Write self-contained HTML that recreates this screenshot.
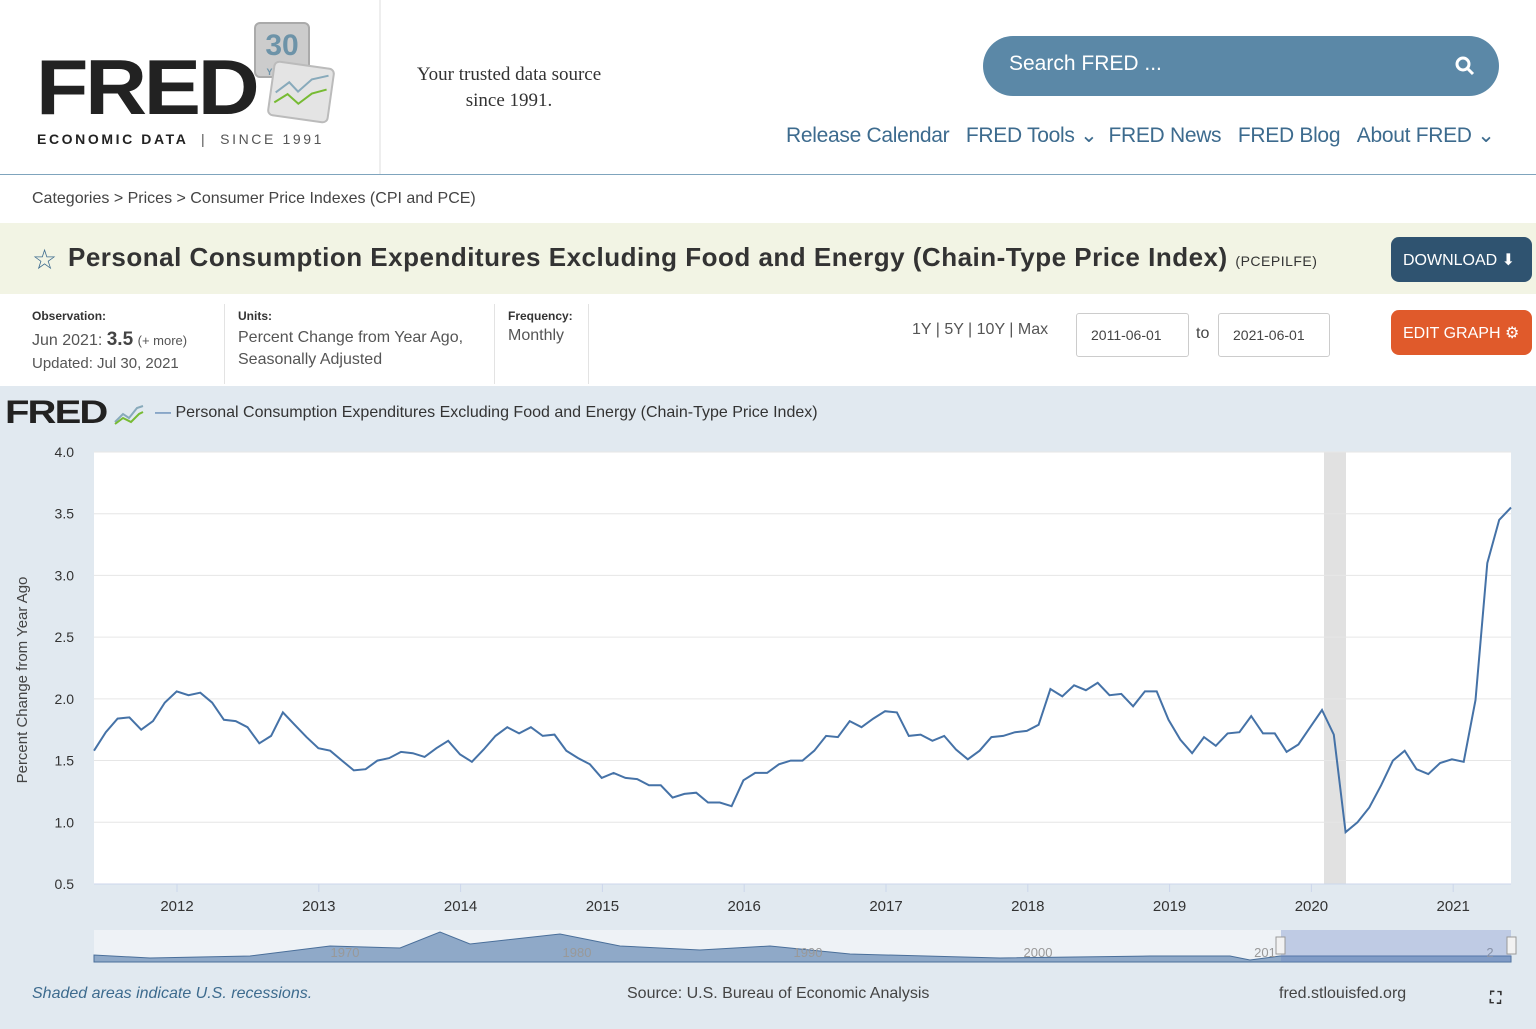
<!DOCTYPE html>
<html><head><meta charset="utf-8"><style>
*{margin:0;padding:0;box-sizing:border-box}
body{width:1536px;height:1029px;overflow:hidden;background:#fff;font-family:"Liberation Sans",sans-serif;position:relative}
.a{position:absolute;white-space:nowrap}
</style></head><body>
<div class="a" style="left:36px;top:42px;font:900 78px 'Liberation Sans';color:#222;letter-spacing:-3px;transform:scaleX(1.1);transform-origin:left">FRED</div>
<div class="a" style="left:254px;top:22px;width:56px;height:56px;background:#ccc;border:2px solid #aaa;border-radius:6px;font:bold 30px 'Liberation Sans';color:#6d93a8;text-align:center;line-height:44px">30<div style="font-size:9px;line-height:8px">YEARS</div></div>
<div class="a" style="left:270px;top:64px;width:62px;height:56px;background:#e4e4e4;border:2px solid #bbb;border-radius:6px;transform:rotate(8deg)"><svg width="58" height="50"><polyline points="4,30 16,18 26,26 38,12 54,6" fill="none" stroke="#8ab" stroke-width="2"/><polyline points="4,40 16,30 28,38 40,26 54,20" fill="none" stroke="#7b3" stroke-width="2"/></svg></div>
<div class="a" style="left:37px;top:131px;font:900 14px 'Liberation Sans';letter-spacing:2.6px;color:#222">ECONOMIC DATA <span style="font-weight:400;color:#555">&nbsp;|&nbsp; SINCE 1991</span></div>
<div class="a" style="left:379px;top:0;width:2px;height:174px;background:#eee"></div>
<div class="a" style="left:400px;top:62px;width:218px;text-align:center;font:19px/26px 'Liberation Serif';color:#333;white-space:normal">Your trusted data source since 1991.</div>
<div class="a" style="left:983px;top:36px;width:516px;height:60px;background:#5b88a7;border-radius:30px;color:#fff;font:21px 'Liberation Sans';padding:16px 26px">Search FRED ...<svg style="position:absolute;right:24px;top:20px" width="20" height="20"><circle cx="8" cy="8" r="6" fill="none" stroke="#fff" stroke-width="3"/><line x1="12" y1="12" x2="18" y2="18" stroke="#fff" stroke-width="3"/></svg></div>
<div class="a" style="left:786px;top:123px;font:21px 'Liberation Sans';color:#3d6b8e;letter-spacing:-0.3px">Release Calendar &nbsp;&nbsp;FRED Tools &#8964; &nbsp;FRED News &nbsp;&nbsp;FRED Blog &nbsp;&nbsp;About FRED &#8964;</div>
<div class="a" style="left:0;top:174px;width:1536px;height:1px;background:#7fa4bd"></div>
<div class="a" style="left:32px;top:190px;font:16px 'Liberation Sans';color:#444">Categories &gt; Prices &gt; Consumer Price Indexes (CPI and PCE)</div>
<div class="a" style="left:0;top:223px;width:1536px;height:71px;background:#f2f4e4"></div>
<div class="a" style="left:32px;top:243px;font:28px 'Liberation Sans';color:#3d6b8e">&#9734;</div>
<div class="a" style="left:68px;top:242px;font:bold 26px 'Liberation Sans';color:#333;letter-spacing:0.5px">Personal Consumption Expenditures Excluding Food and Energy (Chain-Type Price Index) <span style="font-size:14px;font-weight:400">(PCEPILFE)</span></div>
<div class="a" style="left:1391px;top:237px;width:141px;height:45px;background:#2f5370;border-radius:8px;color:#fff;font:16px 'Liberation Sans';padding:13px 12px">DOWNLOAD &#11015;</div>
<div class="a" style="left:32px;top:309px;font:bold 12px 'Liberation Sans';color:#333">Observation:</div>
<div class="a" style="left:32px;top:329px;font:16px 'Liberation Sans';color:#555">Jun 2021: <b style="font-size:19px;color:#444">3.5</b> <span style="font-size:13px">(+ more)</span></div>
<div class="a" style="left:32px;top:355px;font:15px 'Liberation Sans';color:#555">Updated: Jul 30, 2021</div>
<div class="a" style="left:224px;top:304px;width:1px;height:80px;background:#e3e3e3"></div>
<div class="a" style="left:238px;top:309px;font:bold 12px 'Liberation Sans';color:#333">Units:</div>
<div class="a" style="left:238px;top:327px;font:16px/22px 'Liberation Sans';color:#555">Percent Change from Year Ago,<br>Seasonally Adjusted</div>
<div class="a" style="left:494px;top:304px;width:1px;height:80px;background:#e3e3e3"></div>
<div class="a" style="left:508px;top:309px;font:bold 12px 'Liberation Sans';color:#333">Frequency:</div>
<div class="a" style="left:508px;top:327px;font:16px 'Liberation Sans';color:#555">Monthly</div>
<div class="a" style="left:588px;top:304px;width:1px;height:80px;background:#e3e3e3"></div>
<div class="a" style="left:912px;top:321px;font:16px 'Liberation Sans';color:#555">1Y | 5Y | 10Y | Max</div>
<div class="a" style="left:1076px;top:313px;width:113px;height:44px;border:1px solid #ccc;border-radius:3px;font:14px 'Liberation Sans';color:#444;padding:13px 14px">2011-06-01</div>
<div class="a" style="left:1196px;top:325px;font:16px 'Liberation Sans';color:#444">to</div>
<div class="a" style="left:1218px;top:313px;width:112px;height:44px;border:1px solid #ccc;border-radius:3px;font:14px 'Liberation Sans';color:#444;padding:13px 14px">2021-06-01</div>
<div class="a" style="left:1391px;top:310px;width:141px;height:45px;background:#e05a2b;border-radius:8px;color:#fff;font:16px 'Liberation Sans';padding:13px 12px">EDIT GRAPH &#9881;</div>
<div class="a" style="left:0;top:386px;width:1536px;height:643px;background:#e1e9f0"></div>
<div class="a" style="left:5px;top:394px;font:900 32px 'Liberation Sans';color:#222;letter-spacing:-1.5px;transform:scaleX(1.25);transform-origin:left">FRED</div>
<svg class="a" style="left:113px;top:402px" width="32" height="24"><polyline points="2,20 10,12 16,16 24,6 30,4" fill="none" stroke="#8ab" stroke-width="2"/><polyline points="2,22 10,16 18,20 26,12 30,10" fill="none" stroke="#7b3" stroke-width="2"/></svg>
<div class="a" style="left:155px;top:404px;font:16px 'Liberation Sans';color:#333"><span style="color:#4572a7">&#8212;</span> Personal Consumption Expenditures Excluding Food and Energy (Chain-Type Price Index)</div>
<svg class="a" style="left:0;top:0" width="1536" height="1029" id="s"></svg>
<div class="a" style="left:32px;top:985px;font:italic 16px 'Liberation Sans';color:#3d6b8e">Shaded areas indicate U.S. recessions.</div>
<div class="a" style="left:627px;top:985px;font:16px 'Liberation Sans';color:#444">Source: U.S. Bureau of Economic Analysis</div>
<div class="a" style="left:1279px;top:985px;font:16px 'Liberation Sans';color:#444">fred.stlouisfed.org</div>
<div class="a" style="left:1490px;top:990px;font:bold 16px 'Liberation Sans';color:#333">&#x26F6;</div>
<script>
var d=[1.58,1.73,1.84,1.85,1.75,1.82,1.97,2.06,2.03,2.05,1.97,1.83,1.82,1.77,1.64,1.70,1.89,1.79,1.69,1.60,1.58,1.50,1.42,1.43,1.50,1.52,1.57,1.56,1.53,1.60,1.66,1.55,1.49,1.59,1.70,1.77,1.72,1.77,1.70,1.71,1.58,1.52,1.47,1.36,1.40,1.36,1.35,1.30,1.30,1.20,1.23,1.24,1.16,1.16,1.13,1.34,1.40,1.40,1.47,1.50,1.50,1.58,1.70,1.69,1.82,1.77,1.84,1.90,1.89,1.70,1.71,1.66,1.70,1.59,1.51,1.58,1.69,1.70,1.73,1.74,1.79,2.08,2.02,2.11,2.07,2.13,2.03,2.04,1.94,2.06,2.06,1.83,1.67,1.56,1.69,1.62,1.72,1.73,1.86,1.72,1.72,1.57,1.63,1.77,1.91,1.71,0.92,1.00,1.12,1.30,1.50,1.58,1.43,1.39,1.48,1.51,1.49,1.99,3.10,3.45,3.55];
var h='<rect x="94" y="452" width="1417" height="432" fill="#fff"/>';
h+='<rect x="1324" y="452" width="22" height="432" fill="#e1e1e1"/>';
var yl=['4.0','3.5','3.0','2.5','2.0','1.5','1.0','0.5'];
for(var i=0;i<8;i++){var y=452+i*61.71;h+='<line x1="94" x2="1511" y1="'+y+'" y2="'+y+'" stroke="#e6e6e6"/><text x="74" y="'+(y+5)+'" text-anchor="end" font-size="14" fill="#333" font-family="Liberation Sans">'+yl[i]+'</text>';}
h+='<line x1="94" x2="1511" y1="884" y2="884" stroke="#ccd6eb"/>';
for(var k=0;k<10;k++){var x=177+k*141.8;h+='<line x1="'+x+'" x2="'+x+'" y1="884" y2="892" stroke="#ccd6eb"/><text x="'+x+'" y="911" text-anchor="middle" font-size="15" fill="#333" font-family="Liberation Sans">'+(2012+k)+'</text>';}
var p=d.map(function(v,i){return (94+i*11.808).toFixed(1)+','+(884-(v-0.5)*123.43).toFixed(1)}).join(' ');
h+='<polyline points="'+p+'" fill="none" stroke="#4572a7" stroke-width="2"/>';
h+='<text x="15" y="668" transform="rotate(-90 27 668)" text-anchor="middle" font-size="15" fill="#444" font-family="Liberation Sans">Percent Change from Year Ago</text>';
h+='<rect x="94" y="930" width="1417" height="32" fill="#eef2f6"/>';
var nv=[[94,955],[150,958],[250,956],[330,946],[400,948],[440,932],[470,944],[560,934],[620,946],[700,950],[770,946],[850,954],[1000,958],[1150,956],[1230,956],[1250,960],[1280,956],[1511,956]];
var np='M94,962 '+nv.map(function(a){return 'L'+a[0]+','+a[1]}).join(' ')+' L1511,962 Z';
h+='<path d="'+np+'" fill="#8fa9c8" stroke="#4a6f9a" stroke-width="1"/>';
[[345,'1970'],[577,'1980'],[808,'1990'],[1038,'2000'],[1265,'201'],[1490,'2']].forEach(function(a){h+='<text x="'+a[0]+'" y="957" text-anchor="middle" font-size="13" fill="#999" font-family="Liberation Sans">'+a[1]+'</text>'});
h+='<rect x="1281" y="930" width="230" height="32" fill="#6685c2" fill-opacity="0.35"/>';
h+='<rect x="1276" y="937" width="9" height="17" fill="#f2f2f2" stroke="#999"/><rect x="1507" y="937" width="9" height="17" fill="#f2f2f2" stroke="#999"/>';
document.getElementById('s').innerHTML=h;
</script>
</body></html>
